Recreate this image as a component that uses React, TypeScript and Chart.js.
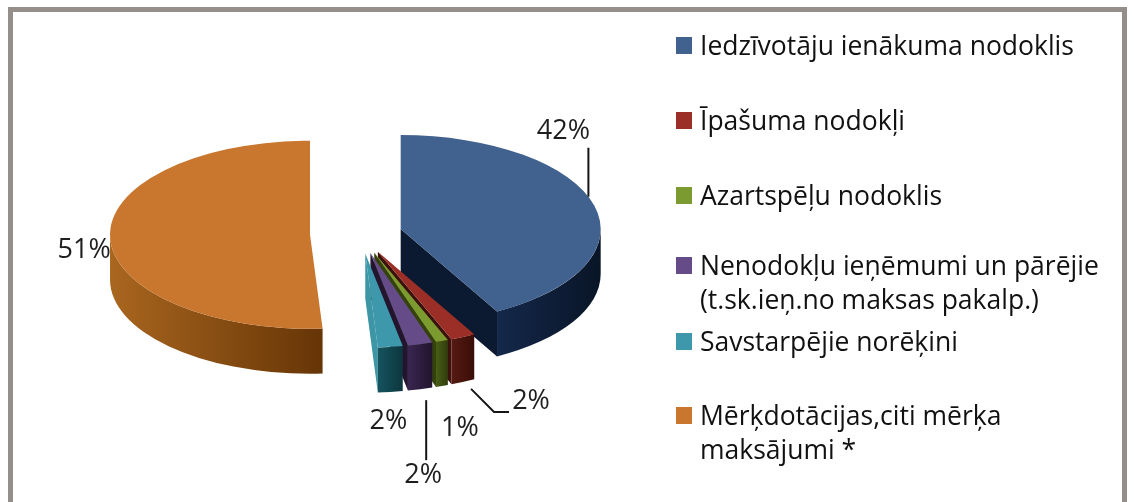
import React, { useEffect, useRef } from 'react';
import { Chart, registerables } from 'chart.js';

Chart.register(...registerables);

// ---- data ----
const categories = [
  'Iedzīvotāju ienākuma nodoklis',
  'Īpašuma nodokļi',
  'Azartspēļu nodoklis',
  'Nenodokļu ieņēmumi un pārējie\n(t.sk.ieņ.no maksas pakalp.)',
  'Savstarpējie norēķini',
  'Mērķdotācijas,citi mērķa\nmaksājumi *',
];
const shares = [42, 2, 1, 2, 2, 51];

// ---- styles ----
const topColors = ['#41628f', '#9b2f27', '#7b9b30', '#654b88', '#3c98aa', '#c9772f'];
const cutColors = ['#0b1a30', '#3c100b', '#34420e', '#24152f', '#3d96a6', '#6a3808'];
const wallColors: [string, string][] = [
  ['#14284a', '#091527'],
  ['#561a12', '#3a0d08'],
  ['#4a5e16', '#303d0c'],
  ['#3a2650', '#22142e'],
  ['#16545e', '#0c363e'],
  ['#a9661f', '#663506'],
];

const TILT = 0.47;
const DEPTH = 45;
const EXPLODE = [42, 42, 42, 42, 42, 50];
const DRAW_ORDER = [5, 0, 1, 2, 3, 4];
const LABEL_ON_BOTTOM = [false, true, true, true, true, false];
const LABEL_LAYOUT: { text: [number, number]; leader: [number, number][] }[] = [
  { text: [-31, -74], leader: [[-6, -9], [-6, -58]] },
  { text: [68, 19], leader: [[8, 7], [31, 30], [46, 30]] },
  { text: [18, 42], leader: [] },
  { text: [3, 86], leader: [[6, 11], [6, 71]] },
  { text: [-2, 29], leader: [] },
  { text: [-26, 13], leader: [] },
];
const LEGEND_X = 676;
const LEGEND_BASELINES = [55, 130, 205, 275, 351, 425];
const LEGEND_LINE = 34;
const FONT = '"Open Sans", "DejaVu Sans", sans-serif';

function geomOf(arc: any, i: number) {
  const p = arc.getProps(['x', 'y', 'startAngle', 'endAngle', 'outerRadius'], true);
  const half = (p.startAngle + p.endAngle) / 2;
  const ex = Math.cos(half) * EXPLODE[i];
  const ey = Math.sin(half) * EXPLODE[i];
  const ox = p.x + ex;
  const oy = p.y + ey * TILT;
  const r = p.outerRadius;
  const ry = r * TILT;
  const pt = (a: number, d: number): [number, number] => [ox + Math.cos(a) * r, oy + Math.sin(a) * ry + d];
  return { ...p, half, ex, ey, ox, oy, r, ry, pt };
}

const pie3d = {
  id: 'pie3d',
  beforeDatasetDraw(chart: any, args: any) {
    const ctx: CanvasRenderingContext2D = chart.ctx;
    const arcs = args.meta.data;
    DRAW_ORDER.forEach((i) => {
      const arc = arcs[i];
      if (!arc) return;
      const g = geomOf(arc, i);
      const s = g.startAngle;
      const e = g.endAngle;
      ctx.save();
      // radial cut faces (only front-facing)
      ctx.fillStyle = cutColors[i];
      const face = (a: number) => {
        const [px, py] = g.pt(a, 0);
        ctx.beginPath();
        ctx.moveTo(g.ox, g.oy);
        ctx.lineTo(px, py);
        ctx.lineTo(px, py + DEPTH);
        ctx.lineTo(g.ox, g.oy + DEPTH);
        ctx.closePath();
        ctx.fill();
      };
      if (Math.cos(s) < -1e-6) face(s);
      if (Math.cos(e) > 1e-6) face(e);
      // outer wall (front half only)
      const a1 = Math.max(s, 0);
      const a2 = Math.min(e, Math.PI);
      if (a2 > a1) {
        let xmin = Infinity;
        let xmax = -Infinity;
        for (let k = 0; k <= 24; k++) {
          const [px] = g.pt(a1 + ((a2 - a1) * k) / 24, 0);
          xmin = Math.min(xmin, px);
          xmax = Math.max(xmax, px);
        }
        const grad = ctx.createLinearGradient(xmin, 0, Math.max(xmax, xmin + 1), 0);
        grad.addColorStop(0, wallColors[i][0]);
        grad.addColorStop(1, wallColors[i][1]);
        ctx.fillStyle = grad;
        ctx.beginPath();
        ctx.ellipse(g.ox, g.oy, g.r, g.ry, 0, a1, a2);
        ctx.ellipse(g.ox, g.oy + DEPTH, g.r, g.ry, 0, a2, a1, true);
        ctx.closePath();
        ctx.fill();
      }
      ctx.restore();
      // top face, drawn by the library's arc element in tilted space
      ctx.save();
      ctx.translate(0, g.y);
      ctx.scale(1, TILT);
      ctx.translate(0, -g.y);
      ctx.translate(g.ex, g.ey);
      arc.draw(ctx);
      ctx.restore();
    });
    return false;
  },
  afterDraw(chart: any) {
    const ctx: CanvasRenderingContext2D = chart.ctx;
    const meta = chart.getDatasetMeta(0);
    const data: number[] = chart.data.datasets[0].data;
    const total = data.reduce((a, b) => a + b, 0);
    ctx.save();
    // percentage labels
    meta.data.forEach((arc: any, i: number) => {
      const g = geomOf(arc, i);
      const [ax, ay] = g.pt(g.half, LABEL_ON_BOTTOM[i] ? DEPTH : 0);
      const lay = LABEL_LAYOUT[i];
      if (lay.leader.length > 1) {
        ctx.strokeStyle = '#151515';
        ctx.lineWidth = 2;
        ctx.beginPath();
        lay.leader.forEach(([dx, dy], k) => {
          if (k === 0) ctx.moveTo(ax + dx, ay + dy);
          else ctx.lineTo(ax + dx, ay + dy);
        });
        ctx.stroke();
      }
      ctx.fillStyle = '#1e1e1e';
      ctx.font = `27px ${FONT}`;
      ctx.textAlign = 'center';
      ctx.textBaseline = 'middle';
      ctx.fillText(`${Math.round((data[i] / total) * 100)}%`, ax + lay.text[0], ay + lay.text[1]);
    });
    // legend
    const labels: string[] = chart.data.labels;
    const colors: string[] = chart.data.datasets[0].backgroundColor;
    ctx.font = `26.5px ${FONT}`;
    ctx.textAlign = 'left';
    ctx.textBaseline = 'alphabetic';
    labels.forEach((lab, i) => {
      const b = LEGEND_BASELINES[i];
      ctx.fillStyle = colors[i];
      ctx.fillRect(LEGEND_X, b - 18, 16, 17);
      ctx.fillStyle = '#111111';
      lab.split('\n').forEach((line, j) => {
        ctx.fillText(line, LEGEND_X + 24, b + j * LEGEND_LINE);
      });
    });
    ctx.restore();
  },
};

export default function App() {
  const ref = useRef<HTMLCanvasElement | null>(null);
  useEffect(() => {
    if (!ref.current) return;
    const chart = new Chart(ref.current, {
      type: 'pie',
      data: {
        labels: categories,
        datasets: [
          {
            data: shares,
            backgroundColor: topColors,
            borderWidth: 0,
            offset: 0,
            hoverOffset: 0,
            radius: 200,
          } as any,
        ],
      },
      options: {
        animation: false,
        responsive: true,
        maintainAspectRatio: false,
        events: [],
        layout: { padding: { left: 0, top: 0, right: 414, bottom: 34 } },
        plugins: { legend: { display: false }, tooltip: { enabled: false } },
      } as any,
      plugins: [pie3d as any],
    });
    return () => chart.destroy();
  }, []);
  return (
    <div style={{ position: 'fixed', left: 0, top: 0, width: 1134, height: 502, background: '#fff', overflow: 'hidden' }}>
      <div
        style={{
          position: 'absolute',
          left: 8,
          top: 7,
          width: 1109,
          height: 600,
          borderTop: '5px solid #948f8b',
          borderLeft: '5px solid #948f8b',
          borderRight: '5px solid #948f8b',
        }}
      />
      <canvas ref={ref} style={{ position: 'absolute', left: 0, top: 0, width: 1134, height: 502 }} />
    </div>
  );
}
